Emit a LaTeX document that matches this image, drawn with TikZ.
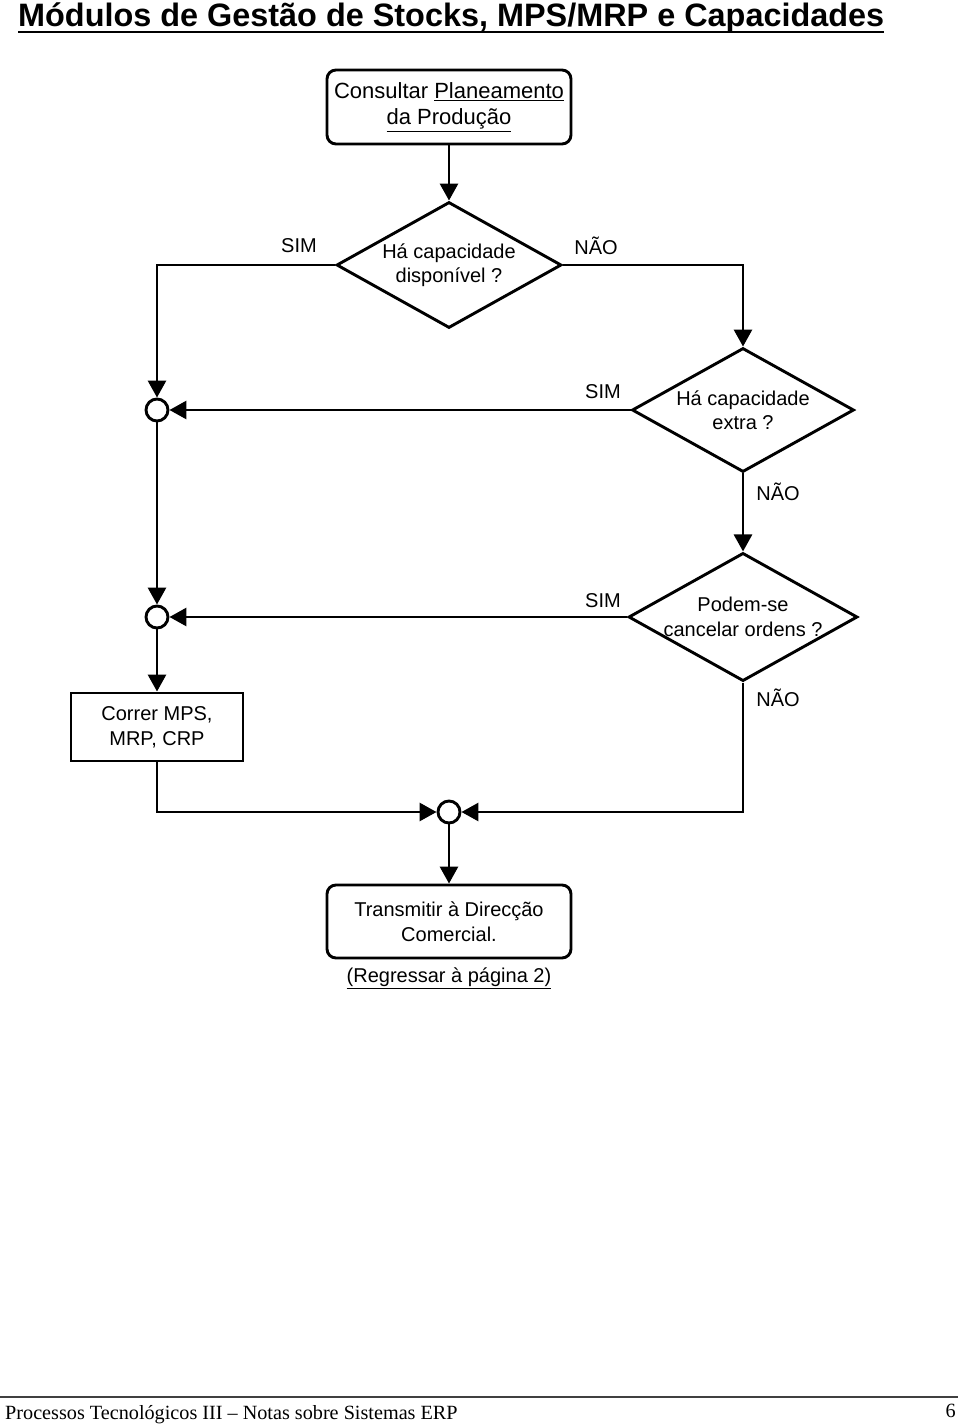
\documentclass[tikz,border=0pt]{standalone}
\usepackage{fontspec}
\setmainfont{Liberation Sans}
\newfontfamily\serifft{Liberation Serif}
\usetikzlibrary{arrows.meta,shapes.geometric}
\begin{document}
\begin{tikzpicture}[x=1pt,y=-1pt,
  lw/.style={line width=2.9pt},
  arr/.style={lw, -{Triangle[length=17pt,width=18pt]}},
  rbox/.style={draw, lw, rounded corners=9pt, minimum width=244pt, minimum height=74pt, align=center, inner sep=0pt},
  sbox/.style={draw, lw, minimum width=172pt, minimum height=68pt, align=center, inner sep=0pt, font=\fontsize{20}{25}\selectfont},
  dec/.style={draw, lw, diamond, aspect=1.786, inner sep=0pt, align=center, font=\fontsize{20}{24.5}\selectfont},
  junc/.style={draw, lw, circle, minimum size=22pt, inner sep=0pt, fill=white},
  lab/.style={font=\fontsize{20}{24}\selectfont, inner sep=0pt}
]
\useasboundingbox (0,0) rectangle (960,1424);
% title
\node[anchor=base west, inner sep=0pt, font=\bfseries\fontsize{32.4}{36}\selectfont] (title) at (18,27) {Módulos de Gestão de Stocks, MPS/MRP e Capacidades};
\draw[line width=2pt] (title.base west) ++(0,5) -- ([yshift=-5pt]title.base east);
% nodes
\node[rbox, font=\fontsize{22}{26}\selectfont] (T) at (449,107) {Consultar \underline{Planeamento}\\\underline{da Produção}};
\node[dec, minimum width=225pt, minimum height=126pt] (D1) at (449,265) {Há capacidade\\disponível ?};
\node[dec, minimum width=222pt, minimum height=124pt] (D2) at (743,410) {Há capacidade\\extra ?};
\node[dec, minimum width=222pt, minimum height=124pt] (D3) at (743,617) {Podem-se\\cancelar ordens ?};
\node[junc] (C1) at (157,410) {};
\node[junc] (C2) at (157,617) {};
\node[junc] (C3) at (449,812) {};
\node[sbox] (R) at (157,727) {Correr MPS,\\MRP, CRP};
\node[rbox, minimum height=73pt, font=\fontsize{20}{25}\selectfont] (T2) at (449,921.5) {Transmitir à Direcção\\Comercial.};
\node[lab] (back) at (449,978) {\underline{(Regressar à página 2)}};
% labels
\node[lab] (s1) at (299,246) {SIM};
\node[lab] (n1) at (596,246) {NÃO};
\node[lab] (s2) at (603,392) {SIM};
\node[lab] (n2) at (778,492) {NÃO};
\node[lab] (s3) at (603,601) {SIM};
\node[lab] (n3) at (778,698) {NÃO};
% connectors
\draw[arr] (T.south) -- (D1.north);
\draw[arr] (D1.west) -| (C1.north);
\draw[arr] (D1.east) -| (D2.north);
\draw[arr] (D2.west) -- (C1.east);
\draw[arr] (C1.south) -- (C2.north);
\draw[arr] (D2.south) -- (D3.north);
\draw[arr] (D3.west) -- (C2.east);
\draw[arr] (C2.south) -- (R.north);
\draw[arr] (R.south) |- (C3.west);
\draw[arr] (D3.south) |- (C3.east);
\draw[arr] (C3.south) -- (T2.north);
% footer
\coordinate (fl) at (0,1397);
\coordinate (fr) at (958,1397);
\draw[line width=1.2pt, black!75] (fl) -- (fr);
\node[anchor=base west, inner sep=0pt, font=\serifft\fontsize{20.2}{24}\selectfont] (foot) at (5,1419) {Processos Tecnológicos III – Notas sobre Sistemas ERP};
\node[anchor=base east, inner sep=0pt, font=\serifft\fontsize{20.2}{24}\selectfont] (page) at (956,1417) {6};
\end{tikzpicture}
\end{document}
